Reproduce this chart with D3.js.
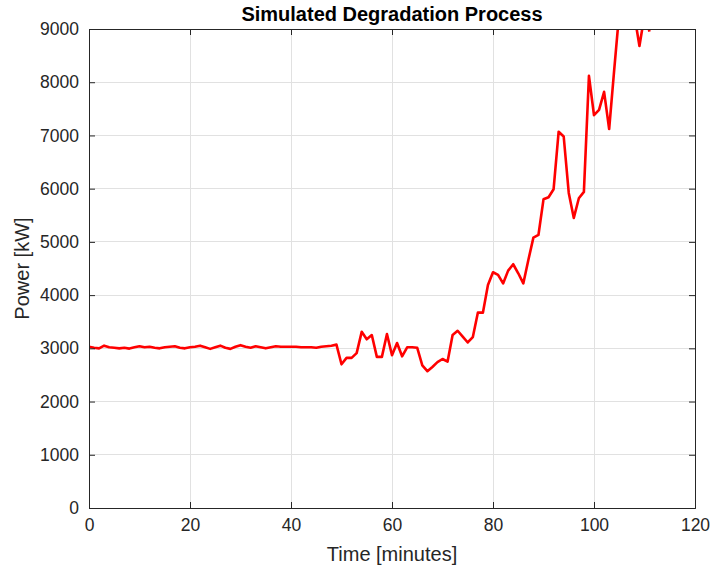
<!DOCTYPE html>
<html><head><meta charset="utf-8">
<script src="https://cdn.jsdelivr.net/npm/d3@7"></script>
<style>body{margin:0;background:#fff}svg{display:block}text{font-family:"Liberation Sans",Arial,Helvetica,sans-serif}</style>
</head><body>
<script>
const minutes = d3.range(0, 112);
const power = [
3030,3010,3000,3050,3020,3010,3000,3010,2995,3020,
3040,3020,3030,3010,3000,3020,3030,3040,3010,3000,
3020,3030,3050,3020,2990,3020,3050,3010,2990,3030,
3060,3030,3010,3040,3020,3000,3020,3040,3030,3030,
3030,3030,3020,3020,3020,3010,3030,3040,3050,3070,
2700,2820,2820,2910,3310,3170,3250,2840,2840,3270,
2870,3100,2850,3020,3020,3010,2680,2570,2650,2740,
2800,2750,3250,3330,3220,3110,3210,3670,3670,4190,
4430,4380,4220,4460,4580,4410,4220,4660,5080,5130,
5800,5840,5990,7070,6980,5920,5450,5820,5940,8120,
7380,7480,7820,7120,8230,9310,9700,9900,9260,8680,
9260,8950];
const xTicks = [0,20,40,60,80,100,120];
const yTicks = [0,1000,2000,3000,4000,5000,6000,7000,8000,9000];
const titleText = "Simulated Degradation Process";
const xLabel = "Time [minutes]";
const yLabel = "Power [kW]";

const W = 713, H = 570;
const m = {left: 89, right: 695, top: 29, bottom: 508};
const svg = d3.select("body").append("svg").attr("width", W).attr("height", H);
const x = d3.scaleLinear().domain([0,120]).range([m.left, m.right]);
const y = d3.scaleLinear().domain([0,9000]).range([m.bottom, m.top]);
const axisColor = "#262626";

// grid
const g = svg.append("g");
g.selectAll(".gx").data(xTicks.slice(1,-1)).enter().append("line")
  .attr("x1", d=>x(d)).attr("x2", d=>x(d)).attr("y1", m.top).attr("y2", m.bottom)
  .attr("stroke", "#e1e1e1").attr("stroke-width", 1).attr("shape-rendering","crispEdges");
g.selectAll(".gy").data(yTicks.slice(1,-1)).enter().append("line")
  .attr("y1", d=>y(d)).attr("y2", d=>y(d)).attr("x1", m.left).attr("x2", m.right)
  .attr("stroke", "#e1e1e1").attr("stroke-width", 1).attr("shape-rendering","crispEdges");

// clip + line
svg.append("clipPath").attr("id","clip").append("rect")
  .attr("x", m.left).attr("y", m.top).attr("width", m.right-m.left).attr("height", m.bottom-m.top);
const line = d3.line().x((d,i)=>x(minutes[i])).y(d=>y(d));
svg.append("path").datum(power).attr("d", line).attr("clip-path","url(#clip)")
  .attr("fill","none").attr("stroke","#ff0000").attr("stroke-width",2.6).attr("stroke-linejoin","round");

// axes
const tickLen = 6;
const fmt = d3.format("d");
const xb = svg.append("g").attr("transform", `translate(0,${m.bottom})`)
  .call(d3.axisBottom(x).tickValues(xTicks).tickSize(-tickLen).tickPadding(10).tickFormat(fmt));
const xt = svg.append("g").attr("transform", `translate(0,${m.top})`)
  .call(d3.axisTop(x).tickValues(xTicks).tickSize(-tickLen).tickFormat(""));
const yl = svg.append("g").attr("transform", `translate(${m.left},0)`)
  .call(d3.axisLeft(y).tickValues(yTicks).tickSize(-tickLen).tickPadding(10).tickFormat(fmt));
const yr = svg.append("g").attr("transform", `translate(${m.right},0)`)
  .call(d3.axisRight(y).tickValues(yTicks).tickSize(-tickLen).tickFormat(""));
[xb,xt,yl,yr].forEach(a=>{
  a.selectAll("path").attr("stroke", axisColor).attr("stroke-width",1);
  a.selectAll("line").attr("stroke", axisColor);
  a.selectAll("text").attr("fill", axisColor).style("font-size","17.5px").style("font-family",'"Liberation Sans",Arial,sans-serif');
});
xb.selectAll("text").attr("dy","0.72em");

svg.append("text").attr("x", (m.left+m.right)/2).attr("y", 21).attr("text-anchor","middle")
  .style("font-size","20px").style("font-weight","bold").attr("fill","#000").text(titleText);
svg.append("text").attr("x", (m.left+m.right)/2).attr("y", 561).attr("text-anchor","middle")
  .style("font-size","20px").attr("fill", axisColor).text(xLabel);
svg.append("text").attr("transform", `translate(29,${(m.top+m.bottom)/2}) rotate(-90)`).attr("text-anchor","middle")
  .style("font-size","20px").attr("fill", axisColor).text(yLabel);
</script>
</body></html>
